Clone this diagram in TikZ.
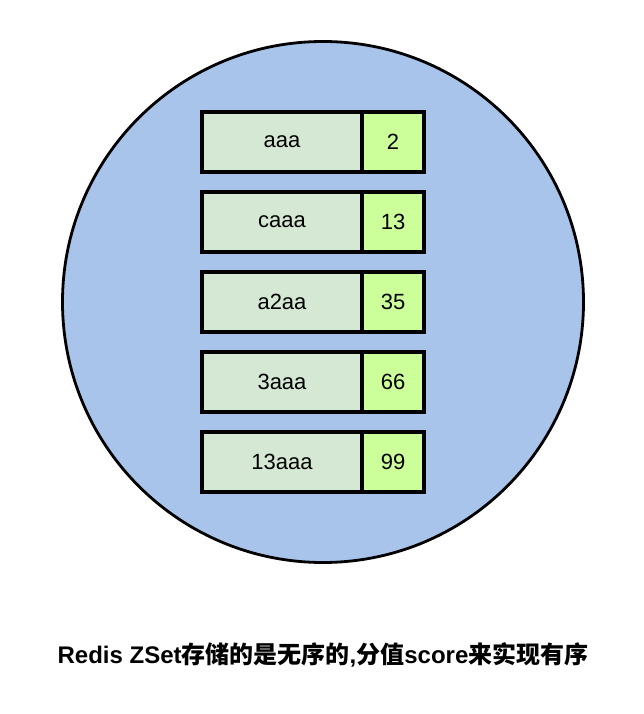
\documentclass[tikz,border=0pt]{standalone}
\usepackage{fontspec}
\setmainfont{Liberation Sans}
\newfontfamily\cjk{Noto Sans CJK SC}
\definecolor{circ}{HTML}{A9C4EB}
\definecolor{keyc}{HTML}{D5E8D4}
\definecolor{valc}{HTML}{CCFF99}
\begin{document}
\begin{tikzpicture}[x=1pt,y=-1pt,
  keybox/.style={draw=black,line width=3.4pt,fill=keyc,minimum width=160pt,minimum height=60pt,inner sep=0pt,font=\fontsize{22}{24}\selectfont},
  valbox/.style={draw=black,line width=3.4pt,fill=valc,minimum width=62pt,minimum height=60pt,inner sep=0pt,font=\fontsize{22}{24}\selectfont}]
\useasboundingbox (0,0) rectangle (644,714);
\node[circle,draw=black,line width=2.8pt,fill=circ,minimum size=521pt,inner sep=0pt] (c) at (323,302) {};
\foreach \k/\v/\y [count=\i] in {aaa/2/142,caaa/13/222,a2aa/35/302,3aaa/66/382,13aaa/99/462}{
  \node[keybox] (k\i) at (282,\y) {\k};
  \node[valbox] (v\i) at (393,\y) {\v};
}
\node[font=\fontsize{24}{26}\selectfont\bfseries] (cap) at (323,655) {Redis ZSet{\cjk\bfseries 存储的是无序的},{\cjk\bfseries 分值}score{\cjk\bfseries 来实现有序}};
\end{tikzpicture}
\end{document}
